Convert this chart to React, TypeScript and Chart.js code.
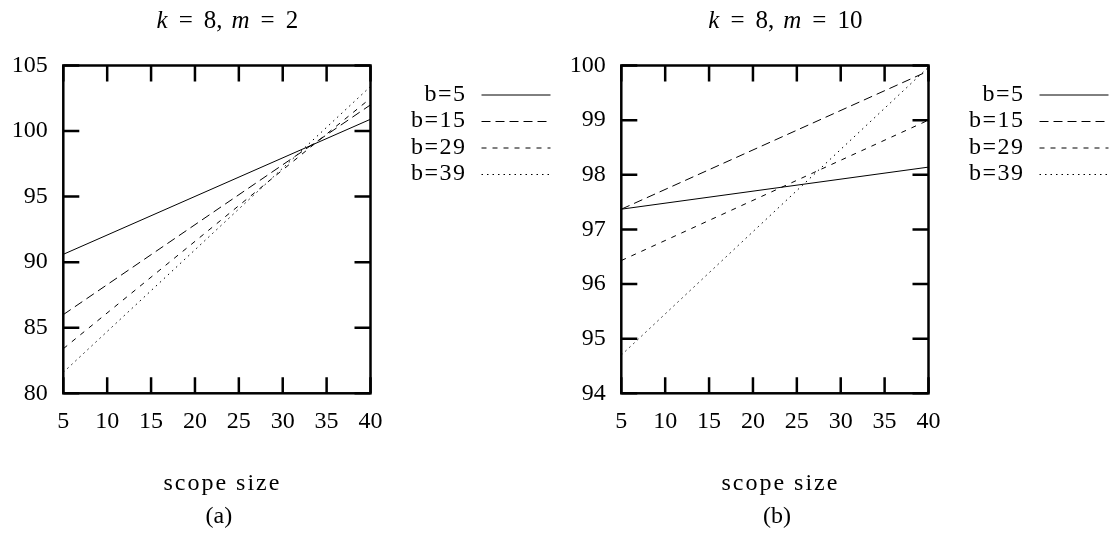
import React, { useEffect, useRef } from "react";
import { Chart, registerables } from "chart.js";

Chart.register(...registerables);

const FONT = "'Liberation Serif', 'Times New Roman', serif";

// ---- data ----
const scopeSize = [5, 40];
const xTickValues = [5, 10, 15, 20, 25, 30, 35, 40];
const seriesLabels = ["b=5", "b=15", "b=29", "b=39"];
const seriesDashes = [[], [9, 5], [5, 6], [1.5, 4]];

// (a) k = 8, m = 2
const m2_b5 = [90.6, 100.9];
const m2_b15 = [86.0, 102.0];
const m2_b29 = [83.4, 102.5];
const m2_b39 = [81.6, 103.4];
const yTicksA = [80, 85, 90, 95, 100, 105];

// (b) k = 8, m = 10
const m10_b5 = [97.37, 98.14];
const m10_b15 = [97.37, 99.9];
const m10_b29 = [96.43, 99.0];
const m10_b39 = [94.7, 99.97];
const yTicksB = [94, 95, 96, 97, 98, 99, 100];

const titleA = [
  { text: "k", italic: true },
  { text: "=" },
  { text: "8," },
  { text: "m", italic: true },
  { text: "=" },
  { text: "2" },
];
const titleB = [
  { text: "k", italic: true },
  { text: "=" },
  { text: "8," },
  { text: "m", italic: true },
  { text: "=" },
  { text: "10" },
];
const titleGaps = [11, 11, 9, 11, 11];
const xAxisLabel = "scope size";
const panelA = "(a)";
const panelB = "(b)";

// ---- plugin drawing frame, inward ticks, title, legend, labels ----
const decorPlugin = {
  id: "decor",
  afterDraw(chart: any, _args: any, opts: any) {
    const { ctx, chartArea: a, scales } = chart;
    const xs = scales.x;
    const ys = scales.y;
    ctx.save();
    ctx.strokeStyle = "#000";
    ctx.fillStyle = "#000";
    ctx.setLineDash([]);
    ctx.lineWidth = 2.5;
    ctx.strokeRect(a.left, a.top, a.right - a.left, a.bottom - a.top);
    const TL = 16;
    ctx.beginPath();
    xs.ticks.forEach((t: any) => {
      const px = xs.getPixelForValue(t.value);
      ctx.moveTo(px, a.bottom);
      ctx.lineTo(px, a.bottom - TL);
      ctx.moveTo(px, a.top);
      ctx.lineTo(px, a.top + TL);
    });
    ys.ticks.forEach((t: any) => {
      const py = ys.getPixelForValue(t.value);
      ctx.moveTo(a.left, py);
      ctx.lineTo(a.left + TL, py);
      ctx.moveTo(a.right, py);
      ctx.lineTo(a.right - TL, py);
    });
    ctx.stroke();

    const cx = (a.left + a.right) / 2;

    // title
    const tsize = 25;
    const segs = opts.title as { text: string; italic?: boolean }[];
    const fonts = segs.map((s) => `${s.italic ? "italic " : ""}${tsize}px ${FONT}`);
    const widths = segs.map((s, i) => {
      ctx.font = fonts[i];
      return ctx.measureText(s.text).width;
    });
    const total = widths.reduce((p, w) => p + w, 0) + titleGaps.reduce((p, g) => p + g, 0);
    let x = cx + 10.5 - total / 2;
    ctx.textBaseline = "middle";
    ctx.textAlign = "left";
    segs.forEach((s, i) => {
      ctx.font = fonts[i];
      ctx.fillText(s.text, x, 21);
      x += widths[i] + (titleGaps[i] || 0);
    });

    // legend
    ctx.font = `24px ${FONT}`;
    (ctx as any).letterSpacing = "1.5px";
    chart.data.datasets.forEach((ds: any, i: number) => {
      const y = a.top + 29 + 26.5 * i;
      ctx.textAlign = "right";
      ctx.textBaseline = "middle";
      ctx.fillStyle = "#000";
      ctx.fillText(ds.label, a.right + 96, y);
      ctx.beginPath();
      ctx.lineWidth = 1;
      ctx.setLineDash(ds.borderDash || []);
      ctx.moveTo(a.right + 111, y + 0.5);
      ctx.lineTo(a.right + 180, y + 0.5);
      ctx.stroke();
    });
    ctx.setLineDash([]);

    // x axis label and panel label
    ctx.textAlign = "center";
    ctx.textBaseline = "alphabetic";
    ctx.font = `24px ${FONT}`;
    (ctx as any).letterSpacing = "2px";
    ctx.fillText(xAxisLabel, cx + 5.5, 490);
    (ctx as any).letterSpacing = "0px";
    ctx.textBaseline = "middle";
    ctx.fillText(opts.panel, cx + 2, 517);
    ctx.restore();
  },
};

function makeConfig(series: number[][], yTicks: number[], title: any, panel: string): any {
  return {
    type: "line",
    data: {
      datasets: series.map((vals, i) => ({
        label: seriesLabels[i],
        data: scopeSize.map((s, j) => ({ x: s, y: vals[j] })),
        borderColor: "#000",
        borderWidth: 1,
        borderDash: seriesDashes[i],
        pointRadius: 0,
        tension: 0,
        fill: false,
      })),
    },
    options: {
      animation: false,
      responsive: false,
      maintainAspectRatio: false,
      layout: { padding: { left: 0, right: 189.5, top: 65.5, bottom: 0 } },
      plugins: {
        legend: { display: false },
        title: { display: false },
        tooltip: { enabled: false },
        decor: { title, panel },
      },
      scales: {
        x: {
          type: "linear",
          min: scopeSize[0],
          max: scopeSize[scopeSize.length - 1],
          afterBuildTicks: (s: any) => {
            s.ticks = xTickValues.map((v) => ({ value: v }));
          },
          afterFit: (s: any) => {
            s.height = 533 - 393.3;
          },
          grid: { display: false, drawTicks: false },
          border: { display: false },
          ticks: {
            color: "#000",
            font: { family: FONT, size: 24 },
            padding: 13.6,
            maxRotation: 0,
            autoSkip: false,
          },
        },
        y: {
          type: "linear",
          min: yTicks[0],
          max: yTicks[yTicks.length - 1],
          afterBuildTicks: (s: any) => {
            s.ticks = yTicks.map((v) => ({ value: v }));
          },
          afterFit: (s: any) => {
            s.width = 63.3;
          },
          grid: { display: false, drawTicks: false },
          border: { display: false },
          ticks: {
            color: "#000",
            font: { family: FONT, size: 24 },
            padding: 15.5,
            autoSkip: false,
          },
        },
      },
    },
    plugins: [decorPlugin],
  };
}

export default function App() {
  const refA = useRef<HTMLCanvasElement>(null);
  const refB = useRef<HTMLCanvasElement>(null);

  useEffect(() => {
    const a = new Chart(
      refA.current as HTMLCanvasElement,
      makeConfig([m2_b5, m2_b15, m2_b29, m2_b39], yTicksA, titleA, panelA)
    );
    const b = new Chart(
      refB.current as HTMLCanvasElement,
      makeConfig([m10_b5, m10_b15, m10_b29, m10_b39], yTicksB, titleB, panelB)
    );
    return () => {
      a.destroy();
      b.destroy();
    };
  }, []);

  return (
    <div style={{ position: "absolute", left: 0, top: 0, width: 1120, height: 533, background: "#fff" }}>
      <canvas
        ref={refA}
        width={560}
        height={533}
        style={{ position: "absolute", left: 0, top: 0, width: 560, height: 533, display: "block" }}
      />
      <canvas
        ref={refB}
        width={560}
        height={533}
        style={{ position: "absolute", left: 558, top: 0, width: 560, height: 533, display: "block" }}
      />
    </div>
  );
}
